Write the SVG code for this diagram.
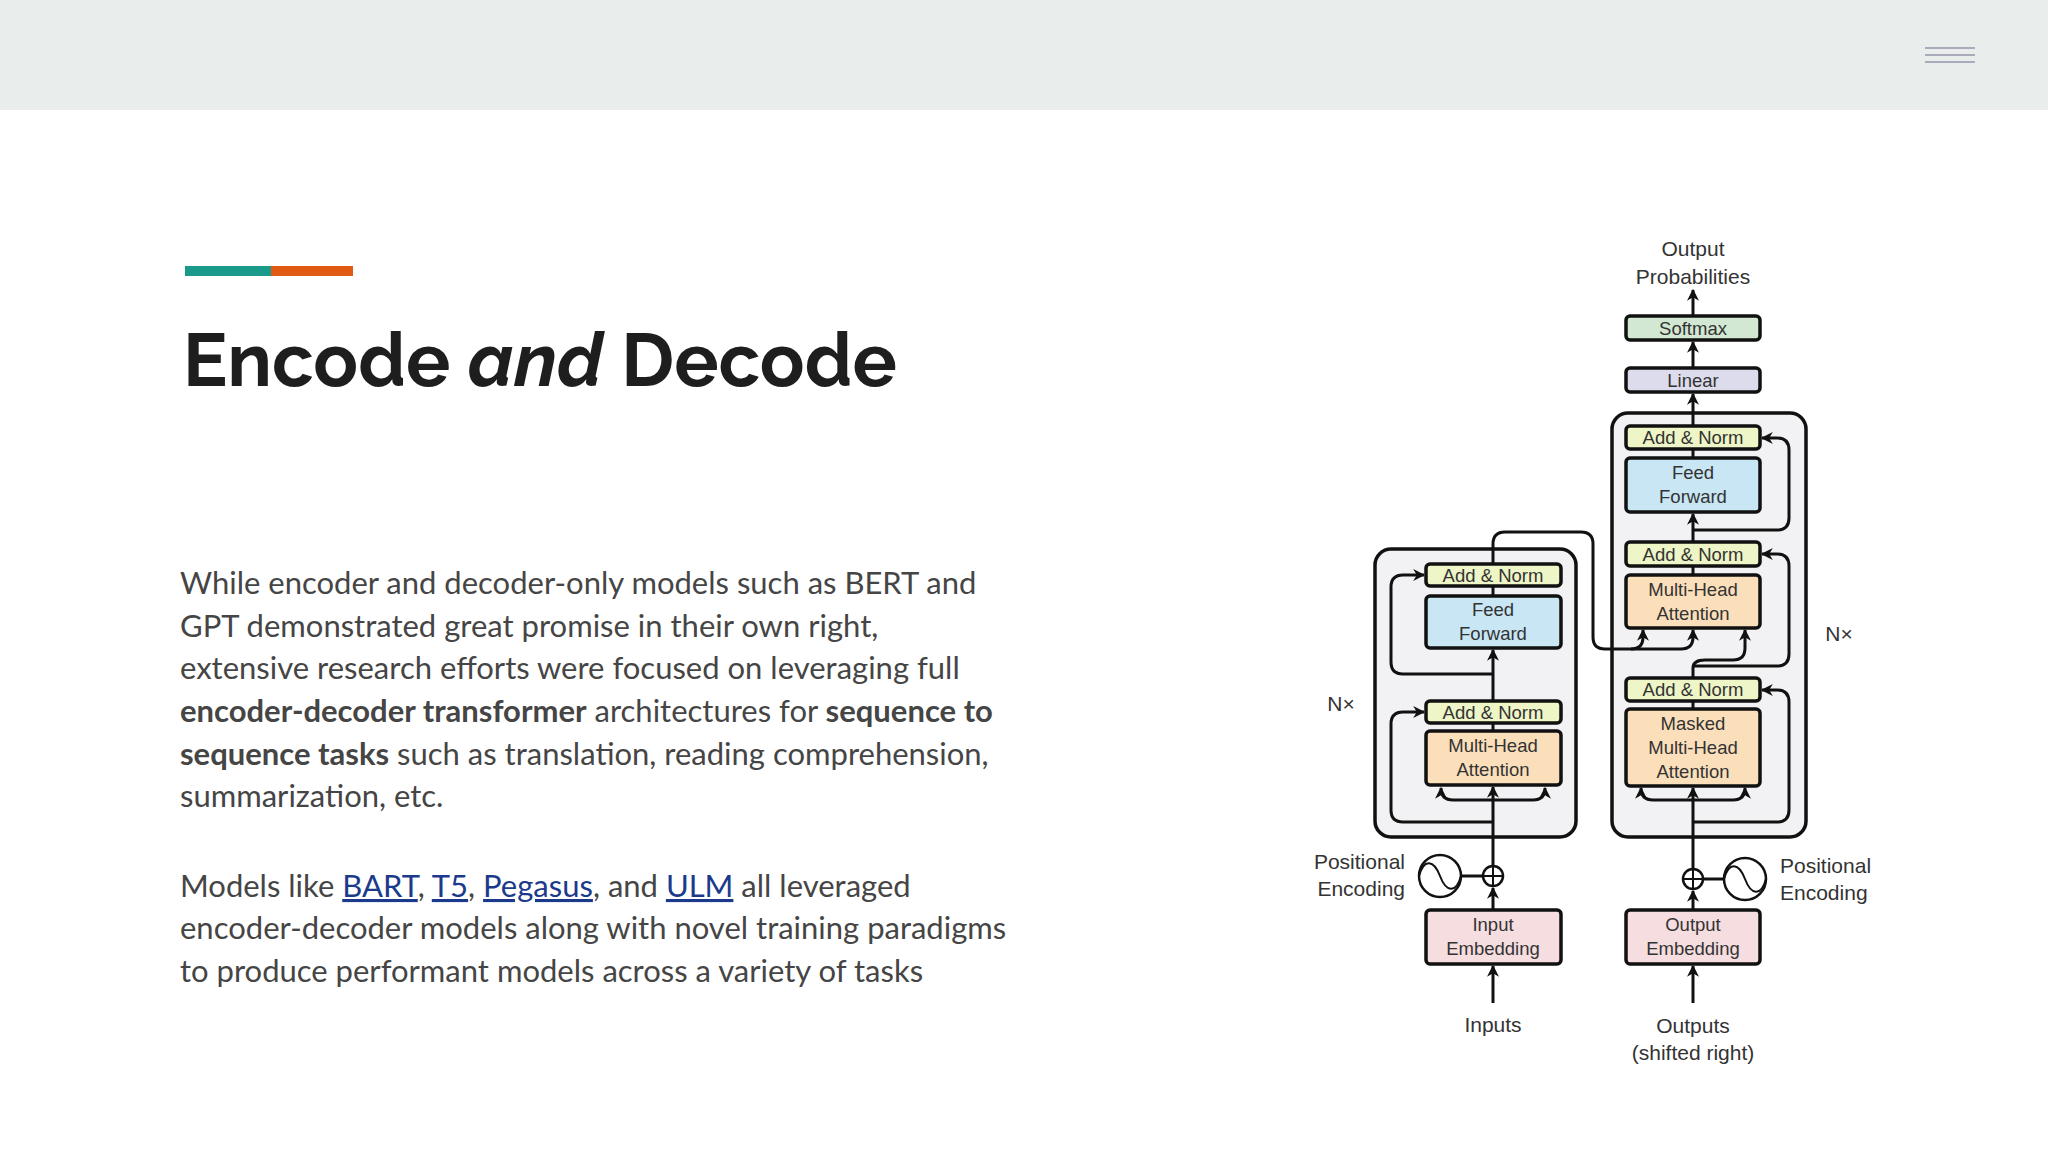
<svg xmlns="http://www.w3.org/2000/svg" width="2048" height="1152" viewBox="0 0 2048 1152">
<style>
.body{font-family:Lato,"Liberation Sans",sans-serif;font-size:31px;fill:#454545}
.b{font-weight:bold}
.lk{fill:#1b3a8c;text-decoration:underline}
.dl{font-family:"Liberation Sans",Arial,sans-serif;font-size:21px;fill:#333;text-anchor:middle}
.bx{font-family:"Liberation Sans",Arial,sans-serif;font-size:18.5px;fill:#333;text-anchor:middle}
.box{stroke:#111;stroke-width:3.5}
.an{fill:#eef5c6}.ff{fill:#c8e6f4}.mh{fill:#fbdfbb}.em{fill:#f5dde0}
.cn{fill:none;stroke:#111;stroke-width:3}
</style>
<defs>
<marker id="ar" viewBox="0 0 10 10" refX="9" refY="5" markerWidth="4" markerHeight="4" orient="auto-start-reverse"><path d="M0,0 L10,5 L0,10 L3,5 z" fill="#111"/></marker>
</defs>
<rect width="2048" height="1152" fill="#fff"/>
<rect width="2048" height="110" fill="#e9eeec"/>
<g stroke="#aab" stroke-width="2"><line x1="1925" y1="48" x2="1975" y2="48"/><line x1="1925" y1="55" x2="1975" y2="55"/><line x1="1925" y1="62" x2="1975" y2="62"/></g>
<rect x="185" y="266" width="86" height="10" fill="#1a9a8a"/>
<rect x="271" y="266" width="82" height="10" fill="#e05a13"/>
<text x="183" y="386" font-family="Raleway,Lato,'Liberation Sans',sans-serif" font-size="74" font-weight="bold" fill="#1e1e1e">Encode <tspan font-style="italic">and</tspan> Decode</text>
<text class="body" x="180" y="594">While encoder and decoder-only models such as BERT and</text>
<text class="body" x="180" y="637">GPT demonstrated great promise in their own right,</text>
<text class="body" x="180" y="679">extensive research efforts were focused on leveraging full</text>
<text class="body" x="180" y="722"><tspan class="b">encoder-decoder transformer</tspan> architectures for <tspan class="b">sequence to</tspan></text>
<text class="body" x="180" y="765"><tspan class="b">sequence tasks</tspan> such as translation, reading comprehension,</text>
<text class="body" x="180" y="807">summarization, etc.</text>
<text class="body" x="180" y="897">Models like <tspan class="lk">BART</tspan>, <tspan class="lk">T5</tspan>, <tspan class="lk">Pegasus</tspan>, and <tspan class="lk">ULM</tspan> all leveraged</text>
<text class="body" x="180" y="939">encoder-decoder models along with novel training paradigms</text>
<text class="body" x="180" y="982">to produce performant models across a variety of tasks</text>

<g id="encoder-frame"><rect x="1375" y="549" width="201" height="288" rx="16" fill="#f2f2f4" stroke="#111" stroke-width="3.5"/></g>
<g id="decoder-frame"><rect x="1612" y="413" width="194" height="424" rx="16" fill="#f2f2f4" stroke="#111" stroke-width="3.5"/></g>

<g id="connectors">
<line class="cn" x1="1493" y1="1003" x2="1493" y2="966" marker-end="url(#ar)"/>
<line class="cn" x1="1493" y1="910" x2="1493" y2="888" marker-end="url(#ar)"/>
<line class="cn" x1="1461" y1="876" x2="1483" y2="876"/>
<line class="cn" x1="1493" y1="866" x2="1493" y2="787" marker-end="url(#ar)"/>
<path class="cn" d="M1493,800 H1453 Q1441,800 1441,788" marker-end="url(#ar)"/>
<path class="cn" d="M1493,800 H1533 Q1545,800 1545,788" marker-end="url(#ar)"/>
<path class="cn" d="M1493,822 H1403 Q1391,822 1391,810 V724 Q1391,712 1403,712 H1424" marker-end="url(#ar)"/>
<line class="cn" x1="1493" y1="731" x2="1493" y2="723"/>
<line class="cn" x1="1493" y1="701" x2="1493" y2="650" marker-end="url(#ar)"/>
<path class="cn" d="M1493,674 H1403 Q1391,674 1391,662 V587 Q1391,575 1403,575 H1424" marker-end="url(#ar)"/>
<line class="cn" x1="1493" y1="596" x2="1493" y2="586"/>
<path class="cn" d="M1493,564 V544 Q1493,532 1505,532 H1581 Q1593,532 1593,544 V637 Q1593,649 1605,649 H1631 Q1643,649 1643,637 V630" marker-end="url(#ar)"/>
<path class="cn" d="M1631,649 H1681 Q1693,649 1693,637 V630" marker-end="url(#ar)"/>
<line class="cn" x1="1693" y1="1003" x2="1693" y2="966" marker-end="url(#ar)"/>
<line class="cn" x1="1693" y1="910" x2="1693" y2="891" marker-end="url(#ar)"/>
<line class="cn" x1="1703" y1="879" x2="1724" y2="879"/>
<line class="cn" x1="1693" y1="869" x2="1693" y2="788" marker-end="url(#ar)"/>
<path class="cn" d="M1693,800 H1653 Q1641,800 1641,788" marker-end="url(#ar)"/>
<path class="cn" d="M1693,800 H1733 Q1745,800 1745,788" marker-end="url(#ar)"/>
<path class="cn" d="M1693,822 H1777 Q1789,822 1789,810 V702 Q1789,690 1777,690 H1762" marker-end="url(#ar)"/>
<line class="cn" x1="1693" y1="709" x2="1693" y2="701"/>
<path class="cn" d="M1693,678 V668 Q1693,660 1705,660 H1733 Q1745,660 1745,648 V630" marker-end="url(#ar)"/>
<path class="cn" d="M1693,666 H1777 Q1789,666 1789,654 V566 Q1789,554 1777,554 H1762" marker-end="url(#ar)"/>
<line class="cn" x1="1693" y1="575" x2="1693" y2="566"/>
<line class="cn" x1="1693" y1="542" x2="1693" y2="514" marker-end="url(#ar)"/>
<path class="cn" d="M1693,530 H1777 Q1789,530 1789,518 V450 Q1789,438 1777,438 H1762" marker-end="url(#ar)"/>
<line class="cn" x1="1693" y1="458" x2="1693" y2="449"/>
<line class="cn" x1="1693" y1="426" x2="1693" y2="394" marker-end="url(#ar)"/>
<line class="cn" x1="1693" y1="368" x2="1693" y2="342" marker-end="url(#ar)"/>
<line class="cn" x1="1693" y1="316" x2="1693" y2="290" marker-end="url(#ar)"/>
</g>

<g id="enc-addnorm2"><rect class="box an" x="1426" y="564" width="135" height="22" rx="4"/><text class="bx" x="1493" y="582">Add &amp; Norm</text></g>
<g id="enc-ff"><rect class="box ff" x="1426" y="596" width="135" height="52" rx="4"/><text class="bx" x="1493" y="616">Feed</text><text class="bx" x="1493" y="640">Forward</text></g>
<g id="enc-addnorm1"><rect class="box an" x="1426" y="701" width="135" height="22" rx="4"/><text class="bx" x="1493" y="719">Add &amp; Norm</text></g>
<g id="enc-mha"><rect class="box mh" x="1426" y="731" width="135" height="54" rx="4"/><text class="bx" x="1493" y="752">Multi-Head</text><text class="bx" x="1493" y="776">Attention</text></g>
<g id="enc-emb"><rect class="box em" x="1426" y="910" width="135" height="54" rx="4"/><text class="bx" x="1493" y="931">Input</text><text class="bx" x="1493" y="955">Embedding</text></g>
<g id="enc-plus"><circle cx="1493" cy="876" r="10" fill="#fff" stroke="#111" stroke-width="2.5"/><path d="M1483,876 H1503 M1493,866 V886" stroke="#111" stroke-width="2"/></g>
<g id="enc-pe"><circle cx="1440" cy="876" r="21" fill="#fff" stroke="#111" stroke-width="2.5"/><path d="M1419,876 C1424,858 1434,860 1440,876 C1446,892 1456,894 1461,876" fill="none" stroke="#111" stroke-width="2"/></g>

<g id="dec-softmax"><rect class="box" fill="#d2e8d2" x="1626" y="316" width="134" height="24" rx="4"/><text class="bx" x="1693" y="335">Softmax</text></g>
<g id="dec-linear"><rect class="box" fill="#dcdcec" x="1626" y="368" width="134" height="24" rx="4"/><text class="bx" x="1693" y="387">Linear</text></g>
<g id="dec-addnorm3"><rect class="box an" x="1626" y="426" width="134" height="23" rx="4"/><text class="bx" x="1693" y="444">Add &amp; Norm</text></g>
<g id="dec-ff"><rect class="box ff" x="1626" y="458" width="134" height="54" rx="4"/><text class="bx" x="1693" y="479">Feed</text><text class="bx" x="1693" y="503">Forward</text></g>
<g id="dec-addnorm2"><rect class="box an" x="1626" y="542" width="134" height="24" rx="4"/><text class="bx" x="1693" y="561">Add &amp; Norm</text></g>
<g id="dec-mha"><rect class="box mh" x="1626" y="575" width="134" height="53" rx="4"/><text class="bx" x="1693" y="596">Multi-Head</text><text class="bx" x="1693" y="620">Attention</text></g>
<g id="dec-addnorm1"><rect class="box an" x="1626" y="678" width="134" height="23" rx="4"/><text class="bx" x="1693" y="696">Add &amp; Norm</text></g>
<g id="dec-mmha"><rect class="box mh" x="1626" y="709" width="134" height="77" rx="4"/><text class="bx" x="1693" y="730">Masked</text><text class="bx" x="1693" y="754">Multi-Head</text><text class="bx" x="1693" y="778">Attention</text></g>
<g id="dec-emb"><rect class="box em" x="1626" y="910" width="134" height="54" rx="4"/><text class="bx" x="1693" y="931">Output</text><text class="bx" x="1693" y="955">Embedding</text></g>
<g id="dec-plus"><circle cx="1693" cy="879" r="10" fill="#fff" stroke="#111" stroke-width="2.5"/><path d="M1683,879 H1703 M1693,869 V889" stroke="#111" stroke-width="2"/></g>
<g id="dec-pe"><circle cx="1745" cy="879" r="21" fill="#fff" stroke="#111" stroke-width="2.5"/><path d="M1724,879 C1729,861 1739,863 1745,879 C1751,895 1761,897 1766,879" fill="none" stroke="#111" stroke-width="2"/></g>

<g id="labels">
<text class="dl" x="1693" y="256">Output</text>
<text class="dl" x="1693" y="284">Probabilities</text>
<text class="dl" x="1493" y="1032">Inputs</text>
<text class="dl" x="1693" y="1033">Outputs</text>
<text class="dl" x="1693" y="1060">(shifted right)</text>
<text class="dl" x="1405" y="869" style="text-anchor:end">Positional</text>
<text class="dl" x="1405" y="896" style="text-anchor:end">Encoding</text>
<text class="dl" x="1780" y="873" style="text-anchor:start">Positional</text>
<text class="dl" x="1780" y="900" style="text-anchor:start">Encoding</text>
<text class="dl" x="1341" y="711">N×</text>
<text class="dl" x="1839" y="641">N×</text>
</g>
</svg>
